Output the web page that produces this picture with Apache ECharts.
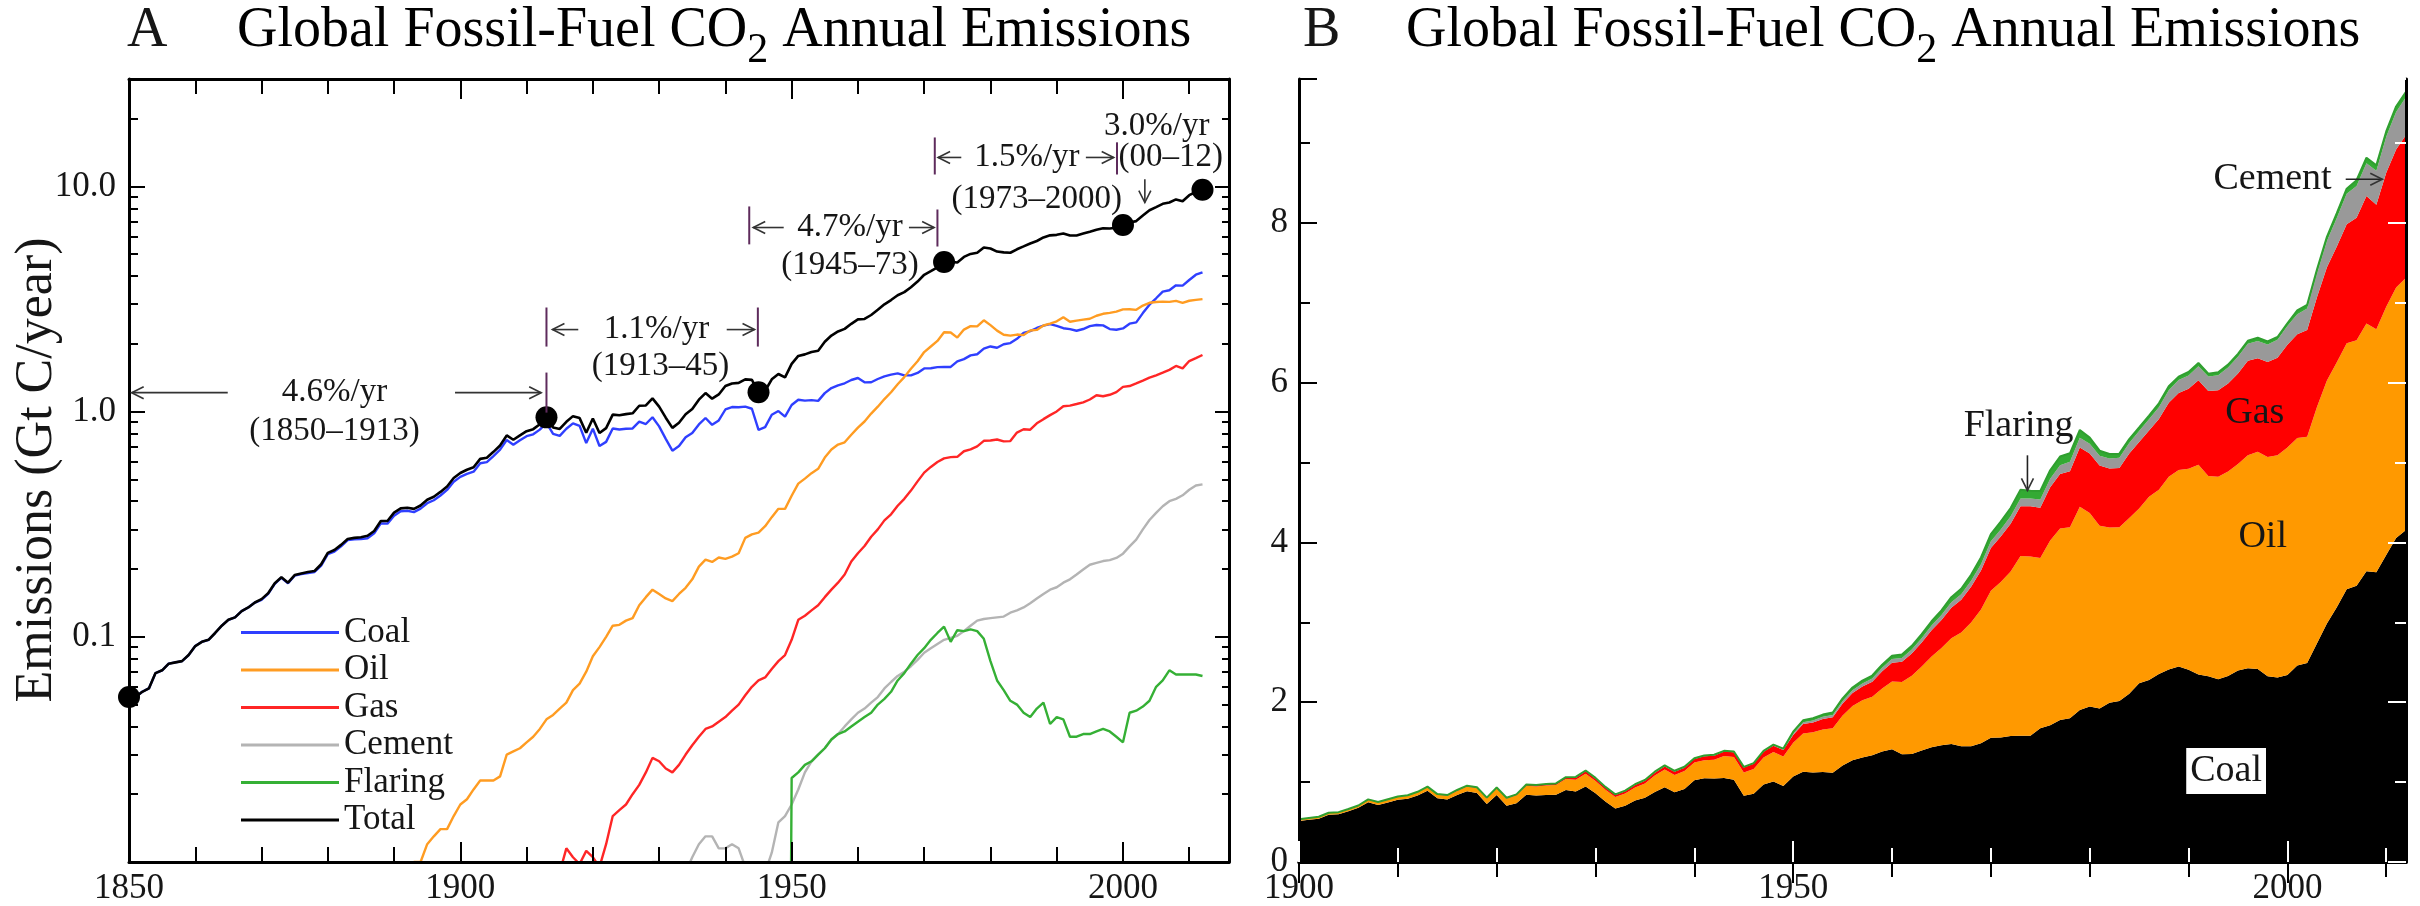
<!DOCTYPE html>
<html>
<head>
<meta charset="utf-8">
<script src="https://cdn.jsdelivr.net/npm/echarts@6/dist/echarts.min.js"></script>
<style>
  html, body { margin: 0; padding: 0; background: #fff; }
  #chart { width: 2420px; height: 906px; }
</style>
</head>
<body>
<div id="chart"></div>
<script>
// Global fossil-fuel CO2 emissions, Gt C / year, 1850-2012
const years = Array.from({ length: 163 }, (_, i) => 1850 + i);

const total = [
  .054, .054, .057, .059, .069, .071, .076, .077, .078, .083,
  .091, .095, .097, .104, .112, .119, .122, .130, .135, .142,
  .147, .156, .173, .184, .174, .188, .191, .194, .196, .210,
  .236, .243, .256, .272, .275, .277, .281, .295, .327, .327,
  .356, .372, .374, .370, .383, .406, .419, .440, .465, .507,
  .534, .552, .566, .617, .624, .663, .707, .784, .750, .785,
  .819, .836, .879, .943, .850, .838, .901, .955, .936, .806,
  .932, .803, .845, .970, .963, .975, .983, 1.062, 1.065, 1.145,
  1.053, .940, .847, .893, .973, 1.027, 1.130, 1.209, 1.142, 1.192,
  1.299, 1.334, 1.342, 1.391, 1.383, 1.220, 1.238, 1.392, 1.469, 1.419,
  1.630, 1.768, 1.796, 1.841, 1.865, 2.043, 2.177, 2.270, 2.330, 2.454,
  2.569, 2.580, 2.686, 2.833, 2.995, 3.130, 3.288, 3.393, 3.566, 3.780,
  4.053, 4.208, 4.376, 4.614, 4.623, 4.596, 4.864, 5.016, 5.074, 5.357,
  5.301, 5.138, 5.094, 5.075, 5.258, 5.417, 5.583, 5.725, 5.936, 6.066,
  6.096, 6.183, 6.054, 6.058, 6.176, 6.295, 6.421, 6.526, 6.504, 6.552,
  6.736, 6.912, 7.015, 7.421, 7.839, 8.097, 8.374, 8.488, 8.757, 8.599,
  9.143, 9.450, 9.670
];

const coal = [
  .054, .054, .057, .059, .069, .071, .076, .077, .078, .083,
  .091, .095, .097, .104, .112, .119, .122, .130, .135, .142,
  .146, .155, .172, .183, .173, .187, .190, .192, .194, .207,
  .233, .239, .252, .269, .271, .272, .274, .288, .319, .318,
  .345, .361, .363, .358, .371, .392, .404, .424, .449, .488,
  .513, .529, .541, .590, .597, .635, .678, .748, .713, .746,
  .778, .793, .832, .892, .797, .781, .839, .887, .864, .725,
  .840, .704, .734, .842, .833, .839, .842, .902, .881, .944,
  .860, .757, .671, .703, .769, .804, .877, .937, .874, .914,
  1.022, 1.048, 1.046, 1.052, 1.030, .830, .853, .969, 1.006, .950,
  1.070, 1.129, 1.119, 1.125, 1.116, 1.208, 1.273, 1.309, 1.336, 1.382,
  1.410, 1.349, 1.351, 1.396, 1.435, 1.460, 1.478, 1.448, 1.448, 1.486,
  1.556, 1.559, 1.576, 1.581, 1.579, 1.673, 1.710, 1.777, 1.798, 1.903,
  1.947, 1.921, 1.992, 2.015, 2.106, 2.237, 2.277, 2.352, 2.410, 2.447,
  2.405, 2.346, 2.326, 2.286, 2.327, 2.397, 2.425, 2.416, 2.326, 2.310,
  2.341, 2.458, 2.491, 2.739, 2.985, 3.187, 3.413, 3.458, 3.638, 3.627,
  3.842, 4.055, 4.156
];

const oil = [
  0, 0, 0, 0, 0, 0, 0, 0, 0, 0,
  0, 0, 0, 0, 0, 0, 0, 0, 0, 0,
  .001, .001, .001, .001, .001, .001, .001, .002, .002, .003,
  .003, .004, .004, .003, .004, .004, .005, .005, .005, .006,
  .008, .009, .009, .010, .010, .012, .013, .014, .014, .016,
  .018, .019, .021, .023, .023, .023, .024, .030, .031, .032,
  .034, .036, .039, .043, .045, .048, .051, .058, .062, .070,
  .082, .090, .100, .112, .113, .118, .121, .138, .150, .162,
  .155, .148, .144, .155, .165, .180, .205, .220, .215, .225,
  .222, .227, .235, .275, .285, .290, .310, .340, .370, .370,
  .423, .479, .504, .533, .557, .625, .679, .714, .731, .789,
  .849, .904, .980, 1.052, 1.137, 1.219, 1.323, 1.423, 1.551, 1.673,
  1.839, 1.947, 2.060, 2.250, 2.245, 2.132, 2.314, 2.398, 2.392, 2.544,
  2.422, 2.289, 2.196, 2.176, 2.199, 2.186, 2.293, 2.306, 2.412, 2.459,
  2.517, 2.627, 2.506, 2.537, 2.562, 2.585, 2.665, 2.719, 2.744, 2.781,
  2.846, 2.848, 2.832, 2.958, 3.043, 3.068, 3.080, 3.071, 3.103, 3.042,
  3.107, 3.134, 3.158
];

const gas = [
  0, 0, 0, 0, 0, 0, 0, 0, 0, 0,
  0, 0, 0, 0, 0, 0, 0, 0, 0, 0,
  0, 0, 0, 0, 0, 0, 0, 0, 0, 0,
  0, 0, 0, 0, 0, .001, .002, .002, .003, .003,
  .003, .002, .002, .002, .002, .002, .002, .002, .002, .003,
  .003, .004, .004, .004, .004, .005, .005, .006, .006, .007,
  .007, .007, .008, .008, .008, .009, .0115, .0105, .0098, .0112,
  .0105, .0095, .012, .016, .017, .018, .020, .022, .025, .029,
  .028, .026, .025, .027, .030, .033, .036, .039, .040, .042,
  .044, .047, .050, .055, .060, .064, .066, .072, .078, .083,
  .097, .119, .124, .131, .138, .150, .162, .174, .189, .216,
  .235, .253, .278, .300, .329, .350, .382, .410, .446, .490,
  .536, .568, .597, .620, .628, .630, .667, .680, .701, .742,
  .744, .752, .738, .740, .807, .835, .831, .887, .926, .965,
  1.002, 1.057, 1.063, 1.081, 1.100, 1.132, 1.183, 1.170, 1.188, 1.220,
  1.288, 1.299, 1.334, 1.373, 1.415, 1.450, 1.490, 1.533, 1.596, 1.557,
  1.677, 1.729, 1.785
];

const cement = [
  0, 0, 0, 0, 0, 0, 0, 0, 0, 0,
  0, 0, 0, 0, 0, 0, 0, 0, 0, 0,
  0, 0, 0, 0, 0, 0, 0, 0, 0, 0,
  0, 0, 0, 0, 0, 0, 0, 0, 0, 0,
  0, 0, 0, 0, 0, 0, 0, 0, 0, 0,
  0, 0, 0, 0, 0, 0, 0, 0, 0, 0,
  0, 0, 0, 0, 0, 0, 0, 0, 0, 0,
  0, 0, 0, 0, 0, 0, 0, 0, .009, .010,
  .010, .009, .007, .008, .009, .0105, .012, .013, .013, .0115,
  .0115, .012, .0115, .0095, .008, .007, .009, .011, .015, .016,
  .018, .021, .025, .028, .030, .032, .035, .037, .040, .043,
  .046, .048, .051, .054, .059, .063, .067, .070, .074, .079,
  .085, .089, .093, .097, .099, .101, .106, .112, .118, .120,
  .121, .122, .123, .128, .131, .135, .141, .148, .155, .162,
  .166, .174, .180, .189, .199, .209, .213, .217, .219, .224,
  .234, .252, .270, .300, .330, .355, .380, .400, .410, .425,
  .450, .470, .475
];

const flaring = [
  0, 0, 0, 0, 0, 0, 0, 0, 0, 0,
  0, 0, 0, 0, 0, 0, 0, 0, 0, 0,
  0, 0, 0, 0, 0, 0, 0, 0, 0, 0,
  0, 0, 0, 0, 0, 0, 0, 0, 0, 0,
  0, 0, 0, 0, 0, 0, 0, 0, 0, 0,
  0, 0, 0, 0, 0, 0, 0, 0, 0, 0,
  0, 0, 0, 0, 0, 0, 0, 0, 0, 0,
  0, 0, 0, 0, 0, 0, 0, 0, 0, 0,
  0, 0, 0, 0, 0, 0, 0, 0, 0, 0,
  0, 0, 0, 0, 0, 0, 0, 0, 0, 0,
  .0236, .025, .027, .028, .030, .032, .035, .037, .038, .040,
  .042, .044, .046, .050, .053, .057, .064, .069, .076, .083,
  .089, .097, .104, .111, .095, .107, .106, .108, .106, .098,
  .078, .064, .058, .052, .050, .046, .044, .048, .051, .041,
  .044, .043, .036, .036, .037, .037, .038, .039, .038, .036,
  .034, .046, .047, .049, .052, .060, .064, .071, .068, .068,
  .068, .068, .067
];

// years marked with a dot on the total curve in panel A
const dotYears = [1850, 1913, 1945, 1973, 2000, 2012];

// panel A growth-rate notes: [text, year, value]
const rateTexts = [
  ['4.6%/yr', 1881, 1.214], ['(1850\u20131913)', 1881, 0.815],
  ['1.1%/yr', 1929.6, 2.314], ['(1913\u201345)', 1930.2, 1.585],
  ['4.7%/yr', 1958.8, 6.57], ['(1945\u201373)', 1958.8, 4.46],
  ['1.5%/yr', 1985.5, 13.45], ['(1973\u20132000)', 1987, 8.75],
  ['3.0%/yr', 2005.1, 18.48], ['(00\u201312)', 2007.2, 13.45]
];
// arrows: [fromYear, toYear, value, head side]
const rateArrows = [
  [1850.4, 1864.9, 1.214, 'L'], [1899.2, 1912.2, 1.214, 'R'],
  [1913.9, 1917.8, 2.314, 'L'], [1940.2, 1944.4, 2.314, 'R'],
  [1944.2, 1948.8, 6.57, 'L'], [1967.7, 1971.5, 6.57, 'R'],
  [1972.1, 1975.6, 13.45, 'L'], [1994.4, 1998.6, 13.45, 'R']
];
// vertical period marks: [year, top value, bottom value]
const rateBars = [
  [1913, 2.90, 1.945], [1913, 1.491, 0.99], [1944.9, 2.90, 1.945],
  [1943.6, 8.15, 5.53], [1972, 7.9, 5.41],
  [1971.6, 16.5, 11.3], [1999.1, 15.7, 11.3]
];
const downArrowA = [2003.3, 10.77, 8.48];

// panel B labels: [text, year, value]
const areaTexts = [
  ['Cement', 1998.5, 8.545], ['Flaring', 1972.8, 5.46],
  ['Gas', 1996.7, 5.62], ['Oil', 1997.5, 4.07], ['Coal', 1993.8, 1.14]
];
const cementArrow = [2005.9, 2009.6, 8.545];
const flaringArrow = [1973.7, 5.09, 4.65];

const FONT = '"Liberation Serif", "DejaVu Serif", serif';
const INK = '#161616';

const lineColors = { Coal: '#2f3fff', Oil: '#ff9c22', Gas: '#ff2626', Cement: '#b4b4b4', Flaring: '#35b035', Total: '#000000' };
const areaColors = { Coal: '#000000', Oil: '#ff9900', Gas: '#ff0000', Cement: '#999999', Flaring: '#33aa33' };

const chart = echarts.init(document.getElementById('chart'));

const logPos = v => (v > 0 ? v : 1e-6);
const pairsLog = arr => years.map((y, i) => [y, logPos(arr[i])]);
const B_START = 1900;
const yearsB = years.filter(y => y >= B_START).map(String);
const fromB = arr => arr.slice(years.indexOf(B_START));

const minorLog = [0.02, 0.03, 0.04, 0.05, 0.06, 0.07, 0.08, 0.09,
  0.2, 0.3, 0.4, 0.5, 0.6, 0.7, 0.8, 0.9, 2, 3, 4, 5, 6, 7, 8, 9, 20];

function xAxisA(pos, interval, len, withLine, withLabel) {
  return {
    gridIndex: 0, type: 'value', position: pos, min: 1850, max: 2016, interval: interval, z: 10,
    axisLine: { show: withLine, lineStyle: { color: '#000', width: 3 } },
    axisTick: { show: true, inside: true, length: len, lineStyle: { color: '#000', width: 2 } },
    axisLabel: withLabel ? {
      show: true, margin: 9, fontFamily: FONT, fontSize: 35, color: INK,
      formatter: v => (v % 50 === 0 ? String(v) : '')
    } : { show: false },
    splitLine: { show: false }
  };
}

function xAxisB(pos, step, len, tickColor, withLine, withLabel) {
  return {
    gridIndex: 1, type: 'category', data: yearsB, boundaryGap: false, position: pos, z: 10,
    axisLine: { show: withLine, lineStyle: { color: '#000', width: 3 } },
    axisTick: {
      show: true, inside: true, length: len, lineStyle: { color: tickColor, width: 2 },
      interval: (idx, val) => Number(val) % step === 0
    },
    axisLabel: withLabel ? {
      show: true, margin: 9, fontFamily: FONT, fontSize: 35, color: INK,
      interval: (idx, val) => Number(val) % 50 === 0
    } : { show: false },
    splitLine: { show: false }
  };
}

function yLogDef(pos, ticks, len, withLine, labels) {
  return {
    gridIndex: 0, type: 'log', logBase: 10, min: 0.01, max: 30, position: pos, z: 10,
    axisLine: { show: withLine, lineStyle: { color: '#000', width: 3 } },
    axisTick: { show: true, inside: true, length: len, customValues: ticks, lineStyle: { color: '#000', width: 2 } },
    axisLabel: labels ? {
      show: true, customValues: labels, margin: 13, fontFamily: FONT, fontSize: 35, color: INK,
      formatter: v => Number(v).toFixed(1)
    } : { show: false },
    splitLine: { show: false }
  };
}

function yLinDef(pos, interval, len, tickColor, withLine, withLabel) {
  return {
    gridIndex: 1, type: 'value', position: pos, min: 0, max: 9.8, interval: interval, z: 10,
    axisLine: { show: withLine, lineStyle: { color: '#000', width: 3 } },
    axisTick: { show: true, inside: true, length: len, lineStyle: { color: tickColor, width: 2 } },
    axisLabel: withLabel ? {
      show: true, margin: 11, fontFamily: FONT, fontSize: 35, color: INK,
      formatter: v => (Math.abs(v % 2) < 1e-9 ? String(v) : '')
    } : { show: false },
    splitLine: { show: false }
  };
}

const lineNames = ['Coal', 'Oil', 'Gas', 'Cement', 'Flaring', 'Total'];
const lineData = { Coal: coal, Oil: oil, Gas: gas, Cement: cement, Flaring: flaring, Total: total };

const seriesA = lineNames.map(name => ({
  name: name, type: 'line', xAxisIndex: 0, yAxisIndex: 0,
  data: pairsLog(lineData[name]), showSymbol: false, symbol: 'none', clip: true,
  color: lineColors[name],
  lineStyle: { color: lineColors[name], width: name === 'Total' ? 2.6 : 2.4 },
  z: name === 'Total' ? 6 : 4
}));

seriesA.push({
  name: 'dots', type: 'scatter', xAxisIndex: 0, yAxisIndex: 0,
  data: dotYears.map(y => [y, total[years.indexOf(y)]]),
  symbol: 'circle', symbolSize: 22, itemStyle: { color: '#000', opacity: 1 }, z: 8
});

const areaNames = ['Coal', 'Oil', 'Gas', 'Cement', 'Flaring'];
const areaData = { Coal: coal, Oil: oil, Gas: gas, Cement: cement, Flaring: flaring };
const seriesB = areaNames.map(name => ({
  name: 'B ' + name, type: 'line', xAxisIndex: 4, yAxisIndex: 4, stack: 'fuel',
  data: fromB(areaData[name]), showSymbol: false, symbol: 'none',
  color: areaColors[name],
  lineStyle: { color: name === 'Flaring' ? '#2f9f2f' : areaColors[name], width: name === 'Flaring' ? 2 : 0 },
  areaStyle: { color: areaColors[name], opacity: 1 },
  z: 3
}));

const option = {
  animation: false,
  backgroundColor: '#fff',
  textStyle: { fontFamily: FONT },
  grid: [
    { left: 129, top: 79, width: 1100, height: 783, outerBoundsMode: 'none', containLabel: false },
    { left: 1299, top: 79, width: 1107, height: 783, outerBoundsMode: 'none', containLabel: false }
  ],
  xAxis: [
    xAxisA('bottom', 50, 20, true, true),
    xAxisA('bottom', 10, 15, false, false),
    xAxisA('top', 50, 20, true, false),
    xAxisA('top', 10, 15, false, false),
    xAxisB('bottom', 50, 21, '#fff', true, true),
    xAxisB('bottom', 10, 14, '#fff', false, false),
    xAxisB('top', 50, 21, '#000', true, false),
    xAxisB('top', 10, 15, '#000', false, false)
  ],
  yAxis: [
    yLogDef('left', [0.01, 0.1, 1, 10], 16, true, [0.1, 1, 10]),
    yLogDef('left', minorLog, 9, false, null),
    yLogDef('right', [0.01, 0.1, 1, 10], 14, true, null),
    yLogDef('right', minorLog, 7, false, null),
    yLinDef('left', 2, 18, '#000', true, true),
    yLinDef('left', 1, 11, '#000', false, false),
    yLinDef('right', 2, 18, '#fff', true, false),
    yLinDef('right', 1, 11, '#fff', false, false)
  ],
  legend: {
    orient: 'vertical', left: 236, top: 610, icon: 'rect', itemWidth: 98, itemHeight: 3, itemGap: 2.5,
    selectedMode: false, data: lineNames,
    textStyle: { fontFamily: FONT, fontSize: 35, color: INK, lineHeight: 35 }
  },
  series: seriesA.concat(seriesB)
};

chart.setOption(option);

// annotations placed through the chart's own coordinate conversion
const toA = (x, y) => chart.convertToPixel({ xAxisIndex: 0, yAxisIndex: 0 }, [x, y]);
const toB = (x, y) => {
  const i = x - B_START, i0 = Math.floor(i), f = i - i0;
  const p0 = chart.convertToPixel({ xAxisIndex: 4, yAxisIndex: 4 }, [i0, y]);
  const p1 = chart.convertToPixel({ xAxisIndex: 4, yAxisIndex: 4 }, [i0 + 1, y]);
  return [p0[0] + (p1[0] - p0[0]) * f, p0[1]];
};

function textEl(p, text, size, extra) {
  return {
    type: 'text', x: p[0], y: p[1], z: 60,
    style: Object.assign({ text: text, fontFamily: FONT, fontSize: size, fill: INK, align: 'center', verticalAlign: 'middle' }, extra || {})
  };
}
function segEl(a, b, color, w) {
  return { type: 'line', z: 60, shape: { x1: a[0], y1: a[1], x2: b[0], y2: b[1] }, style: { stroke: color, lineWidth: w } };
}
function headEl(tip, dir) {
  const s = 12, h = 6;
  const [x, y] = tip;
  let pts;
  if (dir === 'L') pts = [[x + s, y - h], [x, y], [x + s, y + h]];
  else if (dir === 'R') pts = [[x - s, y - h], [x, y], [x - s, y + h]];
  else pts = [[x - h, y - s], [x, y], [x + h, y - s]];
  return { type: 'polyline', z: 60, shape: { points: pts }, style: { stroke: '#333', lineWidth: 1.6, fill: null } };
}

const graphics = [];

// panel titles
const titleRich = {
  t: { fontFamily: FONT, fontSize: 56, color: INK },
  s: { fontFamily: FONT, fontSize: 42, color: INK, padding: [40, 0, 0, 0] }
};
const titleText = '{t|Global Fossil-Fuel CO}{s|2}{t| Annual Emissions}';
graphics.push({ type: 'text', x: 127, y: 31, z: 60, style: { text: 'A', fontFamily: FONT, fontSize: 56, fill: INK, align: 'left', verticalAlign: 'middle' } });
graphics.push({ type: 'text', x: 237, y: 31, z: 60, style: { text: titleText, rich: titleRich, align: 'left', verticalAlign: 'middle' } });
graphics.push({ type: 'text', x: 1303, y: 31, z: 60, style: { text: 'B', fontFamily: FONT, fontSize: 56, fill: INK, align: 'left', verticalAlign: 'middle' } });
graphics.push({ type: 'text', x: 1406, y: 31, z: 60, style: { text: titleText, rich: titleRich, align: 'left', verticalAlign: 'middle' } });

// y axis title of panel A
graphics.push({
  type: 'text', x: 37, y: 470, rotation: Math.PI / 2, z: 60,
  style: { text: 'Emissions (Gt C/year)', fontFamily: FONT, fontSize: 52, fill: INK, align: 'center', verticalAlign: 'middle' }
});

// panel A notes
rateTexts.forEach(([t, x, y]) => graphics.push(textEl(toA(x, y), t, 33)));
rateArrows.forEach(([x1, x2, y, side]) => {
  const a = toA(x1, y), b = toA(x2, y);
  graphics.push(segEl(a, b, '#333', 1.6));
  graphics.push(headEl(side === 'L' ? a : b, side));
});
rateBars.forEach(([x, y1, y2]) => graphics.push(segEl(toA(x, y1), toA(x, y2), '#5e2b5c', 2)));
{
  const a = toA(downArrowA[0], downArrowA[1]), b = toA(downArrowA[0], downArrowA[2]);
  graphics.push(segEl(a, b, '#333', 1.6));
  graphics.push(headEl(b, 'D'));
}

// panel B notes
areaTexts.forEach(([t, x, y]) => {
  const extra = t === 'Coal' ? { backgroundColor: '#fff', padding: [4, 4, 4, 4] } : {};
  graphics.push(textEl(toB(x, y), t, 38, extra));
});
{
  const a = toB(cementArrow[0], cementArrow[2]), b = toB(cementArrow[1], cementArrow[2]);
  graphics.push(segEl(a, b, '#222', 1.6));
  graphics.push(headEl(b, 'R'));
  const c = toB(flaringArrow[0], flaringArrow[1]), d = toB(flaringArrow[0], flaringArrow[2]);
  graphics.push(segEl(c, d, '#222', 1.6));
  graphics.push(headEl(d, 'D'));
}

chart.setOption({ graphic: graphics });
</script>
</body>
</html>
